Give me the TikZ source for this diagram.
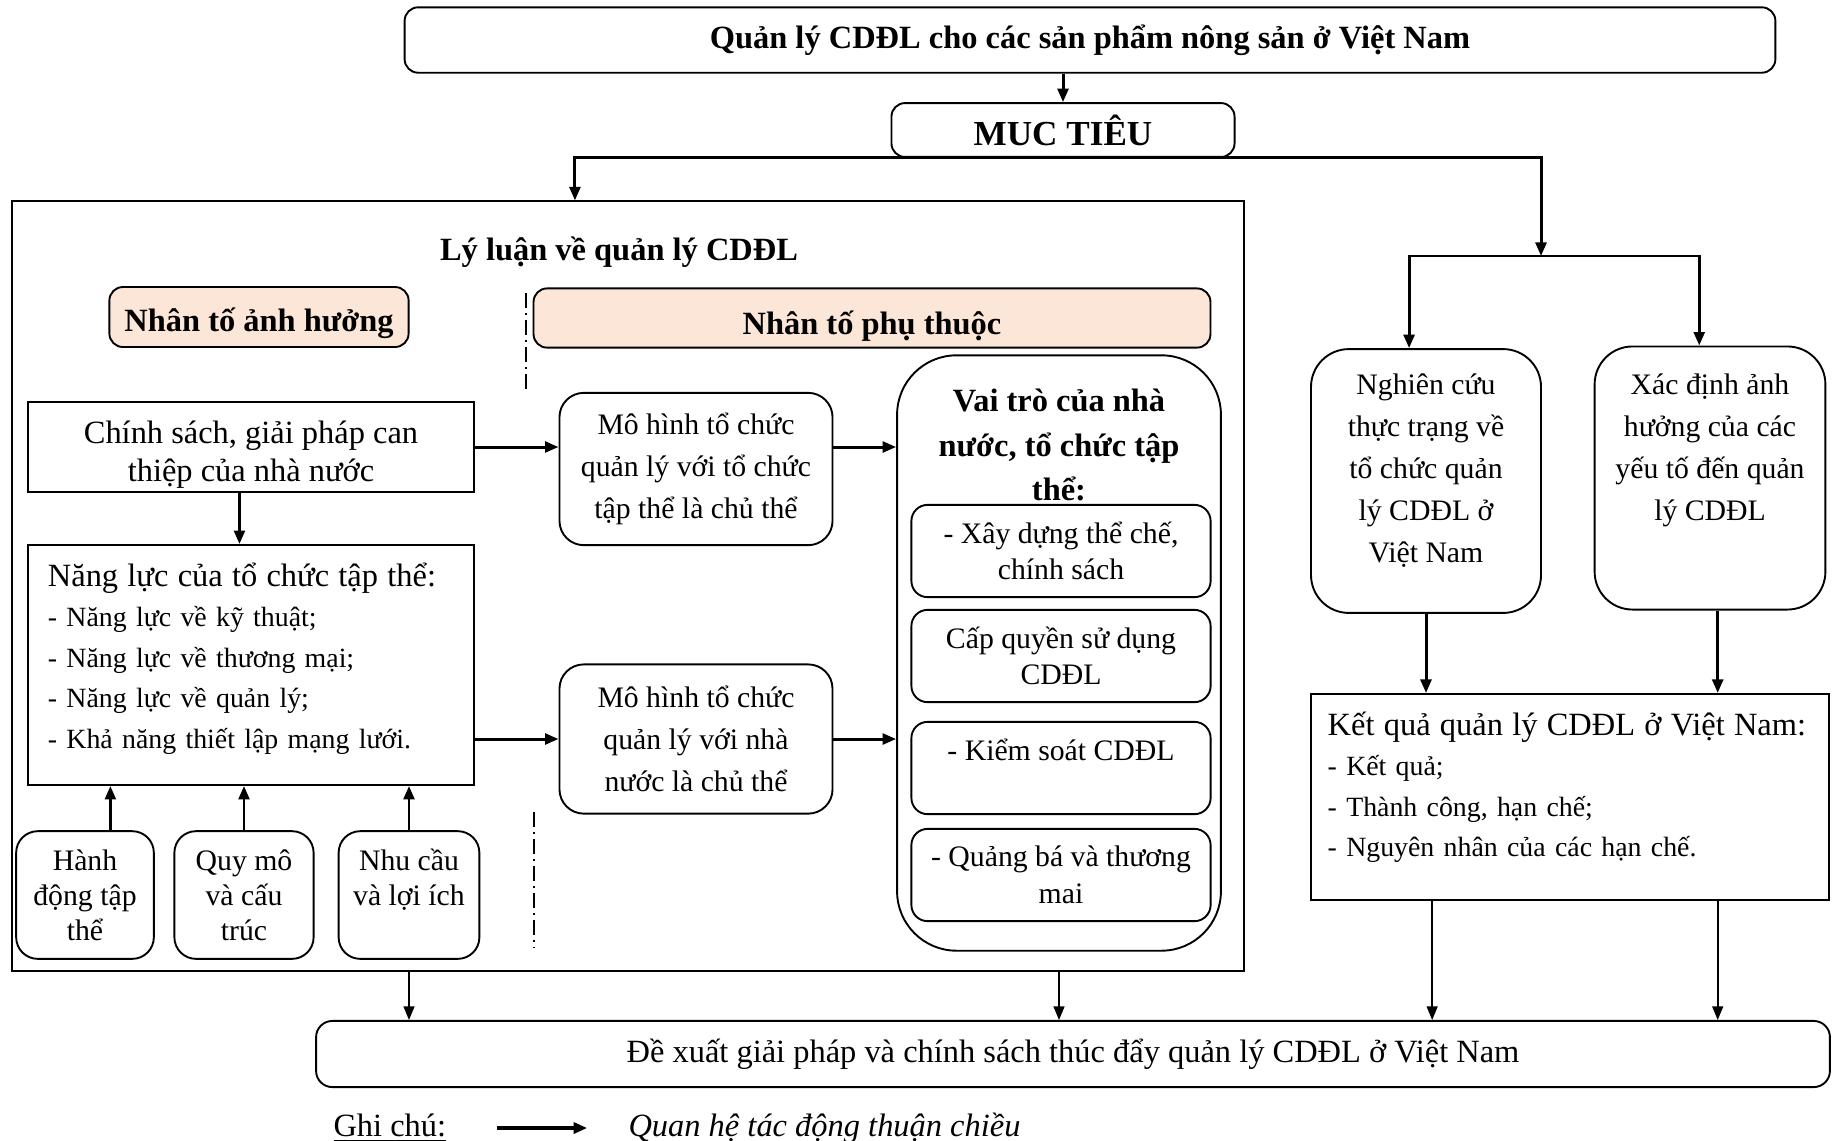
\documentclass[tikz,border=0pt]{standalone}
\usepackage{fontspec}
\setmainfont{Liberation Serif}
\usetikzlibrary{arrows.meta,positioning}
\definecolor{peach}{RGB}{251,230,216}

\begin{document}
\begin{tikzpicture}[
  x=0.013cm, y=-0.013cm,
  >={Triangle[length=5pt,width=4pt]},
  box/.style={rectangle, draw, line width=0.7pt, align=center, font=\fontsize{11}{13.5}\selectfont, inner sep=2pt},
  rbox/.style={box, rounded corners=8pt},
  hdr/.style={rbox, rounded corners=5pt, fill=peach, font=\fontsize{12}{15}\selectfont\bfseries},
  arrow/.style={->, line width=1.1pt},
  thinarrow/.style={->, line width=0.6pt},
  divider/.style={line width=0.5pt, dash pattern=on 5.5pt off 2pt on 0.5pt off 2pt}
]
\useasboundingbox (0,0) rectangle (1834,1140);
% top of the diagram
\node[rbox, rounded corners=5pt, minimum width=17.82cm, minimum height=0.85cm, font=\fontsize{12}{15}\selectfont\bfseries] (top) at (1090,40) {Quản lý CDĐL cho các sản phẩm nông sản ở Việt Nam};
\node[rbox, rounded corners=5pt, minimum width=4.46cm, minimum height=0.70cm, font=\fontsize{13}{15}\selectfont\bfseries] (muc) at (1063,130) {MUC TIÊU};
% left frame
\node[box, minimum width=16.02cm, minimum height=10cm] (lyluan) at (628,586) {};
\node[font=\fontsize{12}{15}\selectfont\bfseries] (lltitle) at (619,252) {Lý luận về quản lý CDĐL};
\node[hdr, minimum width=3.89cm, minimum height=0.78cm] (ahuong) at (259,317) {Nhân tố ảnh hưởng\\[-17.3pt]~};
\node[hdr, minimum width=8.80cm, minimum height=0.77cm] (phuthuoc) at (872,318) {Nhân tố phụ thuộc\\[-18.2pt]~};
\draw[divider] (526,293) -- (526,392);
\draw[divider] (534,812) -- (534,948);
\node[box, minimum width=5.80cm, minimum height=1.18cm, font=\fontsize{12}{14}\selectfont] (chinhsach) at (251,447) {Chính sách, giải pháp can\\thiệp của nhà nước\\[-17.3pt]~};
\node[box, minimum width=5.80cm, minimum height=3.12cm, text width=5.28cm, align=left, font=\fontsize{10.3}{15}\selectfont] (nangluc) at (251,665) {{\fontsize{12}{15}\selectfont Năng lực của tổ chức tập thể:}\\- Năng lực về kỹ thuật;\\- Năng lực về thương mại;\\- Năng lực về quản lý;\\- Khả năng thiết lập mạng lưới.\\[-8pt]~};
\node[rbox, rounded corners=8pt, minimum width=1.79cm, minimum height=1.66cm, font=\fontsize{11}{13}\selectfont] (hanhdong) at (85,895) {Hành\\động tập\\thể};
\node[rbox, rounded corners=8pt, minimum width=1.81cm, minimum height=1.66cm, font=\fontsize{11}{13}\selectfont] (quymo) at (244,895) {Quy mô\\và cấu\\trúc};
\node[rbox, rounded corners=8pt, minimum width=1.83cm, minimum height=1.66cm, font=\fontsize{11}{13}\selectfont] (nhucau) at (409,895) {Nhu cầu\\và lợi ích\\~};
\node[rbox, rounded corners=9pt, minimum width=3.55cm, minimum height=1.98cm, font=\fontsize{11}{15.5}\selectfont] (mohinh1) at (696,469) {Mô hình tổ chức\\quản lý với tổ chức\\tập thể là chủ thể};
\node[rbox, rounded corners=9pt, minimum width=3.55cm, minimum height=1.94cm, font=\fontsize{11}{15.5}\selectfont] (mohinh2) at (696,739) {Mô hình tổ chức\\quản lý với nhà\\nước là chủ thể};
\node[rbox, rounded corners=22pt, minimum width=4.21cm, minimum height=7.74cm] (vaitro) at (1059,653) {};
\node[rbox, rounded corners=6pt, minimum width=3.89cm, minimum height=1.2cm] (xaydung) at (1061,551) {- Xây dựng thể chế,\\chính sách};
\node[rbox, rounded corners=6pt, minimum width=3.89cm, minimum height=1.2cm] (capquyen) at (1061,656) {Cấp quyền sử dụng\\CDĐL};
\node[rbox, rounded corners=6pt, minimum width=3.89cm, minimum height=1.2cm] (kiemsoat) at (1061,768) {- Kiểm soát CDĐL\\~};
\node[rbox, rounded corners=6pt, minimum width=3.89cm, minimum height=1.2cm] (quangba) at (1061,875) {- Quảng bá và thương\\mai};
\node[font=\fontsize{12}{16.5}\selectfont\bfseries, align=center] (vttitle) at (1059,445) {Vai trò của nhà\\nước, tổ chức tập\\thể:};
% right side
\node[rbox, rounded corners=14pt, minimum width=2.99cm, minimum height=3.43cm, font=\fontsize{11}{15.5}\selectfont] (nghiencuu) at (1426,481) {Nghiên cứu\\thực trạng về\\tổ chức quản\\lý CDĐL ở\\Việt Nam\\[-6pt]~};
\node[rbox, rounded corners=14pt, minimum width=3.00cm, minimum height=3.42cm, font=\fontsize{11}{15.5}\selectfont] (xacdinh) at (1710,478) {Xác định ảnh\\hưởng của các\\yếu tố đến quản\\lý CDĐL\\[7.5pt]~};
\node[box, minimum width=6.73cm, minimum height=2.68cm, text width=6.3cm, align=left, font=\fontsize{10.3}{15}\selectfont] (ketqua) at (1570,797) {{\fontsize{12}{15}\selectfont Kết quả quản lý CDĐL ở Việt Nam:}\\- Kết quả;\\- Thành công, hạn chế;\\- Nguyên nhân của các hạn chế.\\[-5.5pt]~};
% bottom
\node[rbox, rounded corners=6pt, minimum width=19.68cm, minimum height=0.86cm, font=\fontsize{12}{15}\selectfont] (dexuat) at (1073,1054) {Đề xuất giải pháp và chính sách thúc đẩy quản lý CDĐL ở Việt Nam};
\node[anchor=west, inner sep=0pt, font=\fontsize{12}{15}\selectfont] (ghichu) at (333,1128) {\underline{Ghi chú:}};
\node[anchor=west, inner sep=0pt, font=\fontsize{12}{15}\selectfont\itshape] (chuthich) at (628,1128) {Quan hệ tác động thuận chiều};
% connectors
\draw[arrow] (muc.north |- top.south) -- (muc.north);
\coordinate (split) at (1541,256);
\draw[arrow] (muc.south) -| ([xshift=-0.69cm]lyluan.north);
\draw[arrow] (muc.south) -| (split);
\draw[arrow] (split) -| ([xshift=-0.22cm]nghiencuu.north);
\draw[arrow] (split) -| ([xshift=-0.14cm]xacdinh.north);
\draw[arrow] ([xshift=-0.15cm]chinhsach.south) -- ([xshift=-0.15cm]nangluc.north);
\draw[arrow] (chinhsach.east) -- (chinhsach.east -| mohinh1.west);
\draw[arrow] (mohinh1.east |- chinhsach.east) -- (vaitro.west |- chinhsach.east);
\draw[arrow] (nangluc.east |- mohinh2.west) -- (mohinh2.west);
\draw[arrow] (mohinh2.east) -- (mohinh2.east -| vaitro.west);
\draw[arrow] ([xshift=0.33cm]hanhdong.north) -- ([xshift=0.33cm]hanhdong.north |- nangluc.south);
\draw[arrow] (quymo.north) -- (quymo.north |- nangluc.south);
\draw[arrow] (nhucau.north) -- (nhucau.north |- nangluc.south);
\draw[arrow] (nghiencuu.south) -- (nghiencuu.south |- ketqua.north);
\draw[arrow] ([xshift=0.1cm]xacdinh.south) -- ([xshift=0.1cm]xacdinh.south |- ketqua.north);
\draw[thinarrow] (nhucau.south |- lyluan.south) -- (nhucau.south |- dexuat.north);
\draw[thinarrow] (vaitro.south |- lyluan.south) -- (vaitro.south |- dexuat.north);
\draw[thinarrow] ([xshift=0.08cm]nghiencuu.south |- ketqua.south) -- ([xshift=0.08cm]nghiencuu.south |- dexuat.north);
\draw[thinarrow] ([xshift=0.1cm]xacdinh.south |- ketqua.south) -- ([xshift=0.1cm]xacdinh.south |- dexuat.north);
\draw[arrow, line width=1.5pt] ([xshift=0.65cm]ghichu.east) -- ([xshift=-0.53cm]chuthich.west);
\end{tikzpicture}
\end{document}
